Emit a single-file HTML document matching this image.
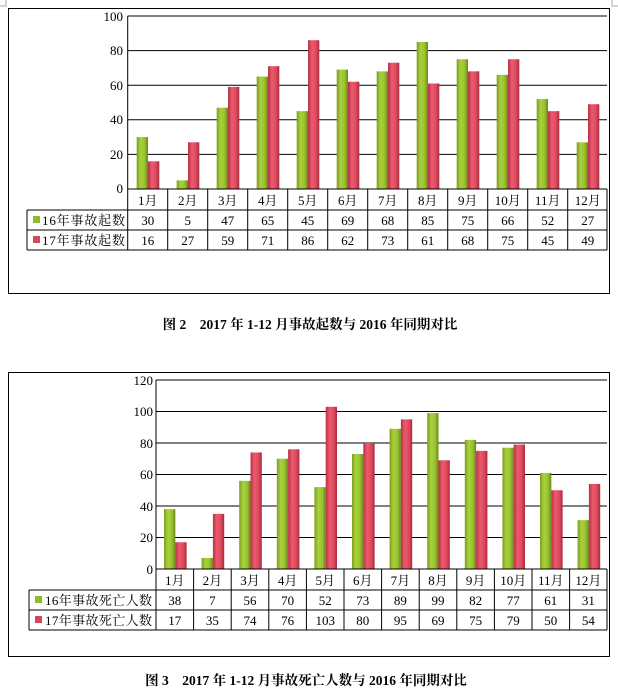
<!DOCTYPE html>
<html><head><meta charset="utf-8"><style>
html,body{margin:0;padding:0;background:#fff;}
svg{display:block;}
text{font-family:"Liberation Serif","Noto Serif CJK SC","Noto Sans CJK SC",serif;font-size:13px;fill:#000;}
.t{text-anchor:middle;}
.y{text-anchor:end;}
.cap{font-family:"Liberation Serif","Noto Serif CJK SC",serif;font-weight:bold;font-size:13.5px;text-anchor:middle;}
</style></head><body>
<svg width="618" height="696" viewBox="0 0 618 696" xmlns="http://www.w3.org/2000/svg">
<defs>
<linearGradient id="g" x1="0" y1="0" x2="1" y2="0">
<stop offset="0" stop-color="#7d9e1c"/><stop offset="0.35" stop-color="#a9d23e"/><stop offset="0.7" stop-color="#99c232"/><stop offset="1" stop-color="#6a8716"/></linearGradient>
<linearGradient id="r" x1="0" y1="0" x2="1" y2="0">
<stop offset="0" stop-color="#b83048"/><stop offset="0.35" stop-color="#ec5a6c"/><stop offset="0.7" stop-color="#e04a5e"/><stop offset="1" stop-color="#a62a40"/></linearGradient>
</defs>
<path d="M0,6 H6 V0" fill="none" stroke="#aaa"/>
<path d="M612,0 V6 H618" fill="none" stroke="#aaa"/>

<!-- ===== Chart 1 ===== -->
<rect x="8.5" y="8.5" width="601" height="285" fill="none" stroke="#000"/>
<g stroke="#000" stroke-width="1">
<line x1="127.7" y1="16" x2="607" y2="16"/>
<line x1="127.7" y1="50.6" x2="607" y2="50.6"/>
<line x1="127.7" y1="85.2" x2="607" y2="85.2"/>
<line x1="127.7" y1="119.8" x2="607" y2="119.8"/>
<line x1="127.7" y1="154.4" x2="607" y2="154.4"/>
</g>
<g transform="translate(127.7,189) scale(1,-1.73)">
<rect x="9" width="11.3" height="30" fill="url(#g)"/><rect x="20.3" width="11.3" height="16" fill="url(#r)"/>
<rect x="49" width="11.3" height="5" fill="url(#g)"/><rect x="60.3" width="11.3" height="27" fill="url(#r)"/>
<rect x="89" width="11.3" height="47" fill="url(#g)"/><rect x="100.3" width="11.3" height="59" fill="url(#r)"/>
<rect x="129" width="11.3" height="65" fill="url(#g)"/><rect x="140.3" width="11.3" height="71" fill="url(#r)"/>
<rect x="169" width="11.3" height="45" fill="url(#g)"/><rect x="180.3" width="11.3" height="86" fill="url(#r)"/>
<rect x="209" width="11.3" height="69" fill="url(#g)"/><rect x="220.3" width="11.3" height="62" fill="url(#r)"/>
<rect x="249" width="11.3" height="68" fill="url(#g)"/><rect x="260.3" width="11.3" height="73" fill="url(#r)"/>
<rect x="289" width="11.3" height="85" fill="url(#g)"/><rect x="300.3" width="11.3" height="61" fill="url(#r)"/>
<rect x="329" width="11.3" height="75" fill="url(#g)"/><rect x="340.3" width="11.3" height="68" fill="url(#r)"/>
<rect x="369" width="11.3" height="66" fill="url(#g)"/><rect x="380.3" width="11.3" height="75" fill="url(#r)"/>
<rect x="409" width="11.3" height="52" fill="url(#g)"/><rect x="420.3" width="11.3" height="45" fill="url(#r)"/>
<rect x="449" width="11.3" height="27" fill="url(#g)"/><rect x="460.3" width="11.3" height="49" fill="url(#r)"/>
</g>
<g stroke="#000" stroke-width="1">
<line x1="127.7" y1="16" x2="127.7" y2="250"/>
<line x1="127.7" y1="189" x2="607" y2="189"/>
<line x1="27" y1="210" x2="607" y2="210"/>
<line x1="27" y1="230" x2="607" y2="230"/>
<line x1="27" y1="250" x2="607" y2="250"/>
<line x1="27" y1="210" x2="27" y2="250"/>
<line x1="167.7" y1="189" x2="167.7" y2="250"/><line x1="207.7" y1="189" x2="207.7" y2="250"/>
<line x1="247.7" y1="189" x2="247.7" y2="250"/><line x1="287.7" y1="189" x2="287.7" y2="250"/>
<line x1="327.7" y1="189" x2="327.7" y2="250"/><line x1="367.7" y1="189" x2="367.7" y2="250"/>
<line x1="407.7" y1="189" x2="407.7" y2="250"/><line x1="447.7" y1="189" x2="447.7" y2="250"/>
<line x1="487.7" y1="189" x2="487.7" y2="250"/><line x1="527.7" y1="189" x2="527.7" y2="250"/>
<line x1="567.7" y1="189" x2="567.7" y2="250"/><line x1="607" y1="189" x2="607" y2="250"/>
</g>
<text class="y" x="123" y="21">100</text>
<text class="y" x="123" y="55">80</text>
<text class="y" x="123" y="90">60</text>
<text class="y" x="123" y="124">40</text>
<text class="y" x="123" y="159">20</text>
<text class="y" x="123" y="193">0</text>
<text class="t" x="147.7" y="205">1月</text><text class="t" x="187.7" y="205">2月</text><text class="t" x="227.7" y="205">3月</text><text class="t" x="267.7" y="205">4月</text><text class="t" x="307.7" y="205">5月</text><text class="t" x="347.7" y="205">6月</text><text class="t" x="387.7" y="205">7月</text><text class="t" x="427.7" y="205">8月</text><text class="t" x="467.7" y="205">9月</text><text class="t" x="507.7" y="205">10月</text><text class="t" x="547.7" y="205">11月</text><text class="t" x="587.7" y="205">12月</text>
<text class="t" x="147.7" y="225">30</text><text class="t" x="187.7" y="225">5</text><text class="t" x="227.7" y="225">47</text><text class="t" x="267.7" y="225">65</text><text class="t" x="307.7" y="225">45</text><text class="t" x="347.7" y="225">69</text><text class="t" x="387.7" y="225">68</text><text class="t" x="427.7" y="225">85</text><text class="t" x="467.7" y="225">75</text><text class="t" x="507.7" y="225">66</text><text class="t" x="547.7" y="225">52</text><text class="t" x="587.7" y="225">27</text>
<text class="t" x="147.7" y="245">16</text><text class="t" x="187.7" y="245">27</text><text class="t" x="227.7" y="245">59</text><text class="t" x="267.7" y="245">71</text><text class="t" x="307.7" y="245">86</text><text class="t" x="347.7" y="245">62</text><text class="t" x="387.7" y="245">73</text><text class="t" x="427.7" y="245">61</text><text class="t" x="467.7" y="245">68</text><text class="t" x="507.7" y="245">75</text><text class="t" x="547.7" y="245">45</text><text class="t" x="587.7" y="245">49</text>
<rect x="33" y="216" width="7" height="7" fill="#8fba2a"/>
<rect x="33" y="236" width="7" height="7" fill="#d84458"/>
<text x="42" y="225" textLength="83">16年事故起数</text>
<text x="42" y="245" textLength="83">17年事故起数</text>
<text class="cap" x="310" y="329">图 2　2017 年 1-12 月事故起数与 2016 年同期对比</text>

<!-- ===== Chart 2 ===== -->
<rect x="8.5" y="372.5" width="601" height="284" fill="none" stroke="#000"/>
<g stroke="#000" stroke-width="1">
<line x1="156" y1="380" x2="607" y2="380"/>
<line x1="156" y1="411.5" x2="607" y2="411.5"/>
<line x1="156" y1="443" x2="607" y2="443"/>
<line x1="156" y1="474.5" x2="607" y2="474.5"/>
<line x1="156" y1="506" x2="607" y2="506"/>
<line x1="156" y1="537.5" x2="607" y2="537.5"/>
</g>
<g transform="translate(156,569) scale(1,-1.575)">
<rect x="8" width="11.3" height="38" fill="url(#g)"/><rect x="19.3" width="11.3" height="17" fill="url(#r)"/>
<rect x="45.6" width="11.3" height="7" fill="url(#g)"/><rect x="56.9" width="11.3" height="35" fill="url(#r)"/>
<rect x="83.2" width="11.3" height="56" fill="url(#g)"/><rect x="94.5" width="11.3" height="74" fill="url(#r)"/>
<rect x="120.8" width="11.3" height="70" fill="url(#g)"/><rect x="132.1" width="11.3" height="76" fill="url(#r)"/>
<rect x="158.4" width="11.3" height="52" fill="url(#g)"/><rect x="169.7" width="11.3" height="103" fill="url(#r)"/>
<rect x="196" width="11.3" height="73" fill="url(#g)"/><rect x="207.3" width="11.3" height="80" fill="url(#r)"/>
<rect x="233.6" width="11.3" height="89" fill="url(#g)"/><rect x="244.9" width="11.3" height="95" fill="url(#r)"/>
<rect x="271.2" width="11.3" height="99" fill="url(#g)"/><rect x="282.5" width="11.3" height="69" fill="url(#r)"/>
<rect x="308.8" width="11.3" height="82" fill="url(#g)"/><rect x="320.1" width="11.3" height="75" fill="url(#r)"/>
<rect x="346.4" width="11.3" height="77" fill="url(#g)"/><rect x="357.7" width="11.3" height="79" fill="url(#r)"/>
<rect x="384" width="11.3" height="61" fill="url(#g)"/><rect x="395.3" width="11.3" height="50" fill="url(#r)"/>
<rect x="421.6" width="11.3" height="31" fill="url(#g)"/><rect x="432.9" width="11.3" height="54" fill="url(#r)"/>
</g>
<g stroke="#000" stroke-width="1">
<line x1="156" y1="380" x2="156" y2="630"/>
<line x1="156" y1="569" x2="607" y2="569"/>
<line x1="29" y1="590" x2="607" y2="590"/>
<line x1="29" y1="610" x2="607" y2="610"/>
<line x1="29" y1="630" x2="607" y2="630"/>
<line x1="29" y1="590" x2="29" y2="630"/>
<line x1="193.6" y1="569" x2="193.6" y2="630"/><line x1="231.2" y1="569" x2="231.2" y2="630"/>
<line x1="268.8" y1="569" x2="268.8" y2="630"/><line x1="306.4" y1="569" x2="306.4" y2="630"/>
<line x1="344" y1="569" x2="344" y2="630"/><line x1="381.6" y1="569" x2="381.6" y2="630"/>
<line x1="419.2" y1="569" x2="419.2" y2="630"/><line x1="456.8" y1="569" x2="456.8" y2="630"/>
<line x1="494.4" y1="569" x2="494.4" y2="630"/><line x1="532" y1="569" x2="532" y2="630"/>
<line x1="569.6" y1="569" x2="569.6" y2="630"/><line x1="607" y1="569" x2="607" y2="630"/>
</g>
<text class="y" x="153" y="385">120</text>
<text class="y" x="153" y="416">100</text>
<text class="y" x="153" y="448">80</text>
<text class="y" x="153" y="479">60</text>
<text class="y" x="153" y="511">40</text>
<text class="y" x="153" y="542">20</text>
<text class="y" x="153" y="574">0</text>
<text class="t" x="174.8" y="585">1月</text><text class="t" x="212.4" y="585">2月</text><text class="t" x="250" y="585">3月</text><text class="t" x="287.6" y="585">4月</text><text class="t" x="325.2" y="585">5月</text><text class="t" x="362.8" y="585">6月</text><text class="t" x="400.4" y="585">7月</text><text class="t" x="438" y="585">8月</text><text class="t" x="475.6" y="585">9月</text><text class="t" x="513.2" y="585">10月</text><text class="t" x="550.8" y="585">11月</text><text class="t" x="588.4" y="585">12月</text>
<text class="t" x="174.8" y="605">38</text><text class="t" x="212.4" y="605">7</text><text class="t" x="250" y="605">56</text><text class="t" x="287.6" y="605">70</text><text class="t" x="325.2" y="605">52</text><text class="t" x="362.8" y="605">73</text><text class="t" x="400.4" y="605">89</text><text class="t" x="438" y="605">99</text><text class="t" x="475.6" y="605">82</text><text class="t" x="513.2" y="605">77</text><text class="t" x="550.8" y="605">61</text><text class="t" x="588.4" y="605">31</text>
<text class="t" x="174.8" y="625">17</text><text class="t" x="212.4" y="625">35</text><text class="t" x="250" y="625">74</text><text class="t" x="287.6" y="625">76</text><text class="t" x="325.2" y="625">103</text><text class="t" x="362.8" y="625">80</text><text class="t" x="400.4" y="625">95</text><text class="t" x="438" y="625">69</text><text class="t" x="475.6" y="625">75</text><text class="t" x="513.2" y="625">79</text><text class="t" x="550.8" y="625">50</text><text class="t" x="588.4" y="625">54</text>
<rect x="35" y="596" width="7" height="7" fill="#8fba2a"/>
<rect x="35" y="616" width="7" height="7" fill="#d84458"/>
<text x="45" y="605" textLength="107">16年事故死亡人数</text>
<text x="45" y="625" textLength="107">17年事故死亡人数</text>
<text class="cap" x="306" y="685">图 3　2017 年 1-12 月事故死亡人数与 2016 年同期对比</text>
</svg>
</body></html>
